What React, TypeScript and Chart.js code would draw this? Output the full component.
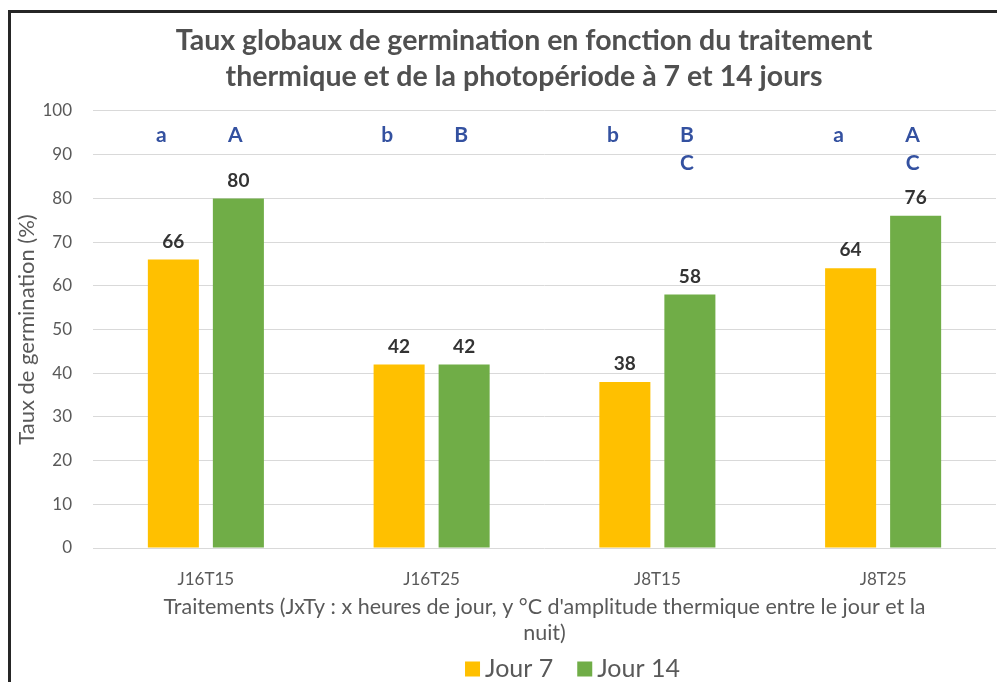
import { useEffect, useRef } from 'react';
import { Chart, registerables } from 'chart.js';

Chart.register(...registerables);

const categories = ['J16T15', 'J16T25', 'J8T15', 'J8T25'];
const seriesLabels = ['Jour 7', 'Jour 14'];
const jour7 = [66, 42, 38, 64];
const jour14 = [80, 42, 58, 76];
const letters7 = [['a'], ['b'], ['b'], ['a']];
const letters14 = [['A'], ['B'], ['B', 'C'], ['A', 'C']];
const letterLevels = [94.5, 88];
const titleLines = [
  'Taux globaux de germination en fonction du traitement',
  'thermique et de la photopériode à 7 et 14 jours',
];
const xTitleLines = [
  "Traitements (JxTy : x heures de jour, y °C d'amplitude thermique entre le jour et la",
  'nuit)',
];
const yTitle = 'Taux de germination (%)';
const yMin = 0;
const yMax = 100;
const yStep = 10;

const colors = ['#FFC000', '#70AD47'];
const grey = '#595959';
const FONT = 'Lato, "Open Sans", sans-serif';

const overlay = {
  id: 'overlay',
  afterDatasetsDraw(chart: any) {
    const ctx = chart.ctx;
    const ys = chart.scales.y;
    ctx.save();
    chart.data.datasets.forEach((ds: any, di: number) => {
      const meta = chart.getDatasetMeta(di);
      meta.data.forEach((bar: any, i: number) => {
        ctx.font = `bold 19px ${FONT}`;
        ctx.fillStyle = '#333333';
        ctx.textAlign = 'center';
        ctx.textBaseline = 'middle';
        ctx.fillText(String(ds.data[i]), bar.x, bar.y - 18);
        const letters = di === 0 ? letters7[i] : letters14[i];
        const dx = di === 0 ? -12 : -3;
        ctx.font = `bold 21px ${FONT}`;
        ctx.fillStyle = '#3451A0';
        letters.forEach((l: string, k: number) => {
          ctx.fillText(l, bar.x + dx, ys.getPixelForValue(letterLevels[k]));
        });
      });
    });
    // legend
    const area = chart.chartArea;
    ctx.font = `25px ${FONT}`;
    ctx.textBaseline = 'middle';
    ctx.textAlign = 'left';
    const box = 15;
    const gapBox = 5;
    const gapItem = 24;
    const widths = seriesLabels.map((s) => ctx.measureText(s).width);
    const total = widths.reduce((a, w) => a + box + gapBox + w, 0) + gapItem;
    let x = (area.left + area.right) / 2 + 28 - total / 2;
    const y = area.bottom + 121;
    seriesLabels.forEach((s, i) => {
      ctx.fillStyle = colors[i];
      ctx.fillRect(x, y - box / 2, box, box);
      x += box + gapBox;
      ctx.fillStyle = grey;
      ctx.fillText(s, x, y);
      x += widths[i] + gapItem;
    });
    ctx.restore();
  },
};

export default function App() {
  const ref = useRef<HTMLCanvasElement>(null);
  useEffect(() => {
    if (!ref.current) return;
    const chart = new Chart(ref.current, {
      type: 'bar',
      data: {
        labels: categories,
        datasets: [
          {
            label: seriesLabels[0],
            data: jour7,
            backgroundColor: colors[0],
            categoryPercentage: 0.576,
            barPercentage: 0.785,
          },
          {
            label: seriesLabels[1],
            data: jour14,
            backgroundColor: colors[1],
            categoryPercentage: 0.576,
            barPercentage: 0.785,
          },
        ],
      },
      options: {
        responsive: false,
        animation: false,
        events: [],
        layout: { padding: { left: 0, right: 0, top: 0, bottom: 67 } },
        plugins: {
          legend: { display: false },
          tooltip: { enabled: false },
          title: {
            display: true,
            text: titleLines,
            color: '#505050',
            font: { family: FONT, size: 28.5, weight: 'bold', lineHeight: 1.263 },
            padding: { top: 10, bottom: 16 },
          },
        },
        scales: {
          x: {
            grid: { display: false },
            border: { display: false },
            ticks: { color: grey, font: { family: FONT, size: 17 }, padding: 13 },
            title: {
              display: true,
              text: xTitleLines,
              color: grey,
              font: { family: FONT, size: 21.5, lineHeight: 1.2 },
              padding: { top: 0, bottom: 0 },
            },
            afterFit(scale: any) {
              scale.height = 98;
            },
          },
          y: {
            min: yMin,
            max: yMax,
            grid: { color: '#D9D9D9', lineWidth: 1, drawTicks: false },
            border: { display: false },
            ticks: { stepSize: yStep, color: grey, font: { family: FONT, size: 17 }, padding: 21 },
            title: {
              display: true,
              text: yTitle,
              color: grey,
              font: { family: FONT, size: 22, lineHeight: 1.2 },
              padding: { top: 3, bottom: 0 },
            },
            afterFit(scale: any) {
              scale.width = 82;
            },
          },
          yRight: {
            position: 'right',
            display: true,
            grid: { display: false },
            border: { display: false },
            ticks: { display: false },
            afterFit(scale: any) {
              scale.width = 41;
            },
          },
        },
      },
      plugins: [overlay],
    } as any);
    return () => chart.destroy();
  }, []);
  return (
    <div style={{ width: 997, height: 674, overflow: 'hidden', position: 'relative' }}>
      <div
        style={{
          position: 'absolute',
          left: 0,
          top: 2,
          borderLeft: '3px solid #262626',
          borderTop: '3px solid #262626',
          background: '#fff',
        }}
      >
        <canvas ref={ref} width={1026} height={700} style={{ display: 'block' }} />
      </div>
    </div>
  );
}
